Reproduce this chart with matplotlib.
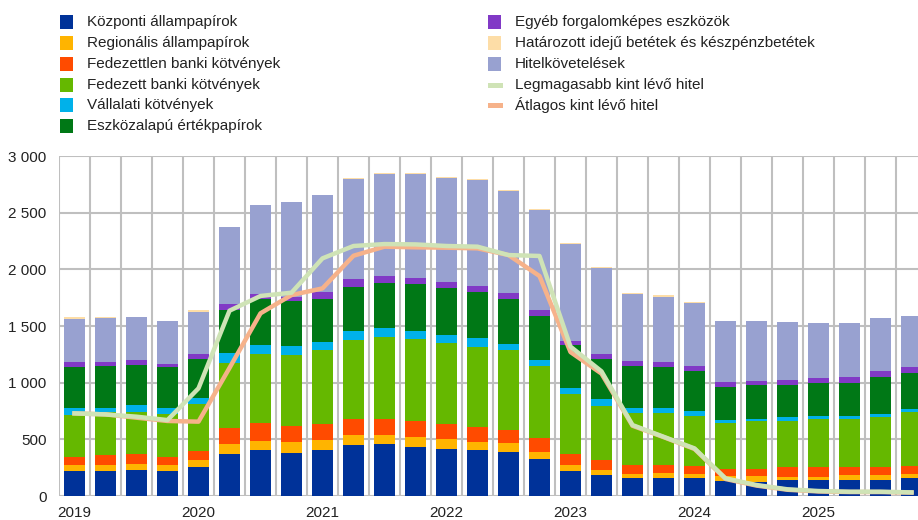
import numpy as np
import matplotlib
matplotlib.use("Agg")
import matplotlib.pyplot as plt
from matplotlib.patches import Rectangle

plt.rcParams['font.family'] = ['Liberation Sans', 'DejaVu Sans']

# negyedéves adatok, 2019 Q1 - 2025 Q4 (milliárd euro)
years = ['2019', '2020', '2021', '2022', '2023', '2024', '2025']

kozponti = [221, 221, 229, 221, 259, 371, 403, 379, 403, 447, 459, 435, 415, 403,
            391, 326, 218, 185, 156, 156, 156, 132, 126, 141, 141, 141, 141, 156]
regionalis = [53, 53, 53, 53, 56, 85, 85, 97, 94, 94, 82, 86, 85, 73,
              77, 62, 56, 41, 41, 44, 41, 44, 50, 30, 30, 44, 44, 41]
fedezetlen = [73, 88, 89, 73, 85, 141, 153, 142, 141, 141, 141, 141, 138, 133,
              117, 124, 97, 89, 77, 74, 68, 65, 65, 82, 82, 68, 68, 71]
fedezett = [368, 382, 373, 376, 412, 574, 615, 623, 647, 691, 724, 720, 712, 709,
            700, 635, 529, 476, 461, 461, 438, 400, 421, 409, 423, 423, 441, 476]
vallalati = [64, 35, 56, 56, 53, 94, 73, 85, 74, 83, 73, 74, 73, 73,
             53, 53, 53, 62, 44, 44, 44, 30, 20, 32, 30, 30, 29, 21]
eszkozalapu = [356, 368, 356, 356, 344, 376, 406, 394, 379, 391, 397, 412, 415, 412,
               400, 388, 379, 356, 368, 356, 356, 294, 294, 288, 288, 288, 324, 317]
egyeb = [44, 32, 44, 33, 44, 53, 47, 39, 62, 65, 65, 52, 50, 53,
         53, 53, 39, 41, 41, 44, 44, 41, 42, 44, 44, 53, 56, 53]
hitelkov = [386, 389, 376, 373, 373, 676, 786, 832, 853, 882, 897, 918, 915, 929,
            897, 885, 852, 762, 594, 580, 556, 538, 526, 506, 485, 476, 465, 453]
betetek = [11, 11, 3, 3, 12, 6, 4, 3, 3, 12, 9, 9, 12, 9,
           9, 9, 9, 8, 9, 11, 6, 2, 2, 2, 2, 2, 2, 2]

legmagasabb = [729, 720, 700, 670, 950, 1635, 1765, 1794, 2097, 2206, 2223, 2220, 2206, 2200,
               2126, 2118, 1318, 1100, 626, 523, 420, 156, 97, 59, 44, 38, 38, 32]
atlagos = [729, 720, 691, 662, 656, 1130, 1612, 1773, 1832, 2120, 2200, 2194, 2191, 2185,
           2126, 1941, 1270, 1080, 620, 520, 415, 150, 92, 55, 40, 35, 35, 30]

bar_series = [
    ('Központi állampapírok', kozponti, '#003299'),
    ('Regionális állampapírok', regionalis, '#FFB400'),
    ('Fedezettlen banki kötvények', fedezetlen, '#FF4B00'),
    ('Fedezett banki kötvények', fedezett, '#65B800'),
    ('Vállalati kötvények', vallalati, '#00B1EA'),
    ('Eszközalapú értékpapírok', eszkozalapu, '#007816'),
    ('Egyéb forgalomképes eszközök', egyeb, '#8139C6'),
    ('Határozott idejű betétek és készpénzbetétek', betetek, '#FDDDA7'),
    ('Hitelkövetelések', hitelkov, '#98A1D0'),
]
# a betétek a hitelkövetelések tetején ülnek
stack_order = [0, 1, 2, 3, 4, 5, 6, 8, 7]

W, H = 918, 520
fig = plt.figure(figsize=(W / 100, H / 100), dpi=100)
ax = fig.add_axes([59 / W, (H - 496) / H, (927 - 59) / W, 340 / H])

x = np.arange(len(kozponti))
bottom = np.zeros(len(x))
for i in stack_order:
    name, vals, col = bar_series[i]
    ax.bar(x, vals, 0.68, bottom=bottom, color=col, zorder=3, linewidth=0)
    bottom += np.array(vals)

ax.plot(x, atlagos, color='#F6B28A', lw=3.2, zorder=4)
ax.plot(x, legmagasabb, color='#CFE3B6', lw=3.2, zorder=5)

ax.set_xlim(-0.5, 27.5)
ax.set_ylim(0, 3000)
ax.set_yticks(np.arange(0, 3001, 500))
ax.set_yticklabels(['0', '500', '1 000', '1 500', '2 000', '2 500', '3 000'])
ax.set_xticks(np.arange(0, 28, 4))
ax.set_xticklabels(years)
ax.set_xticks(np.arange(-0.5, 28, 1), minor=True)
ax.tick_params(axis='both', which='both', length=0, labelsize=11, colors='#222222')
ax.tick_params(axis='y', pad=9)
ax.tick_params(axis='x', pad=7)
ax.grid(axis='y', which='major', color='#BFBFBF', lw=1.5, zorder=0)
ax.grid(axis='x', which='minor', color='#BFBFBF', lw=1.5, zorder=0)
for s in ax.spines.values():
    s.set_visible(False)


def fx(px):
    return px / W


def fy(py):
    return (H - py) / H


# jelmagyarázat kézzel, két oszlopban
rows_y = [22, 43, 64, 85, 105, 126]
left_items = [0, 1, 2, 3, 4, 5]
right_items = [6, 7, 8]
for r, i in enumerate(left_items):
    name, vals, col = bar_series[i]
    yc = rows_y[r]
    fig.add_artist(Rectangle((fx(60), fy(yc + 6.5)), 13 / W, 13 / H,
                             transform=fig.transFigure, color=col, lw=0))
    fig.text(fx(87), fy(yc), name, fontsize=11, color='#222222', va='center')
for r, i in enumerate(right_items):
    name, vals, col = bar_series[i]
    yc = rows_y[r]
    fig.add_artist(Rectangle((fx(488), fy(yc + 6.5)), 13 / W, 13 / H,
                             transform=fig.transFigure, color=col, lw=0))
    fig.text(fx(515), fy(yc), name, fontsize=11, color='#222222', va='center')
for r, (name, col) in enumerate([('Legmagasabb kint lévő hitel', '#CFE3B6'),
                                 ('Átlagos kint lévő hitel', '#F6B28A')]):
    yc = rows_y[r + 3]
    fig.add_artist(Rectangle((fx(488), fy(yc + 2.5)), 15 / W, 5 / H,
                             transform=fig.transFigure, color=col, lw=0))
    fig.text(fx(515), fy(yc), name, fontsize=11, color='#222222', va='center')

fig.savefig('out.png', dpi=100)
